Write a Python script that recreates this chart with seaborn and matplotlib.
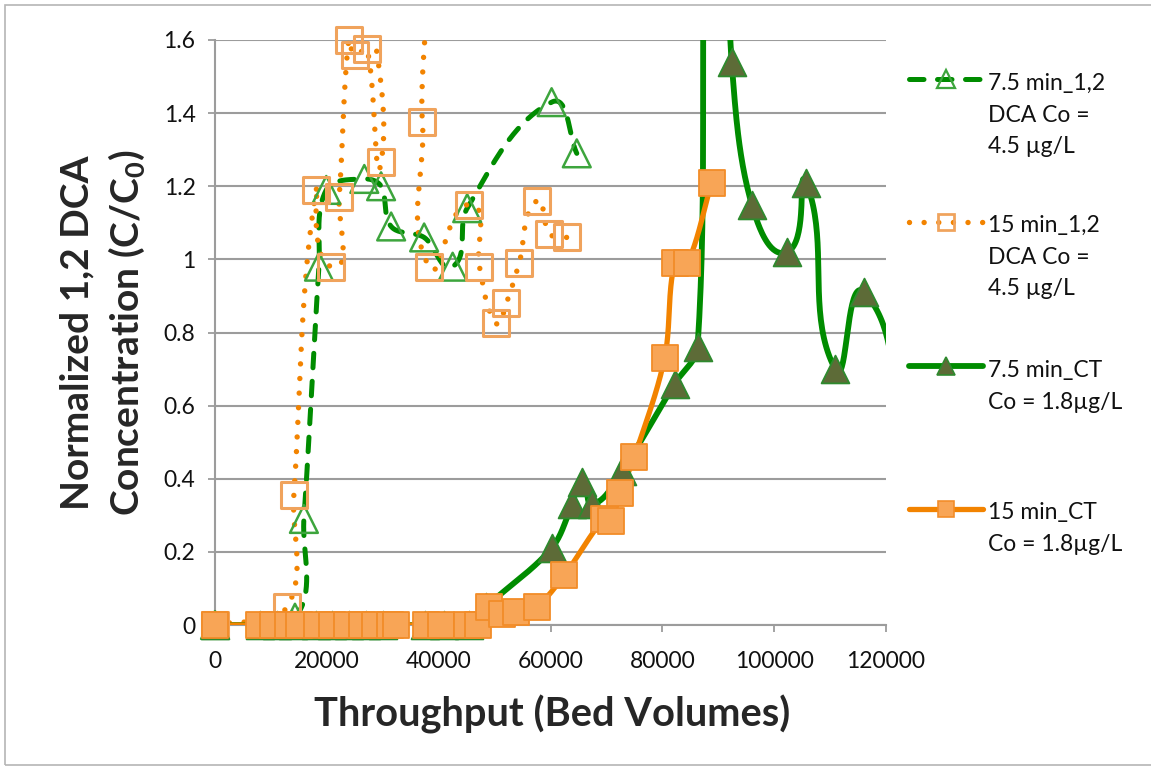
import numpy as np
import matplotlib
matplotlib.use("Agg")
import matplotlib.pyplot as plt
from matplotlib.lines import Line2D
from matplotlib.patches import Rectangle
from matplotlib.ticker import FuncFormatter, MultipleLocator
import seaborn as sns

# ---- data: throughput (bed volumes) vs normalized concentration C/C0 ----
# 7.5 min EBCT, 1,2-DCA (Co = 4.5 ug/L)
bv_dca_75 = [0, 14300, 15900, 18600, 19900, 26700, 29700, 31500, 37400, 42500, 45100, 60200, 64700]
cc_dca_75 = [0, 0.02, 0.29, 0.98, 1.19, 1.22, 1.20, 1.09, 1.06, 0.98, 1.14, 1.43, 1.29]

# 15 min EBCT, 1,2-DCA (Co = 4.5 ug/L)
bv_dca_15 = [0, 12900, 14100, 18100, 20800, 22200, 23900, 25000, 27200, 29700, 33000,
             37100, 38300, 45500, 47300, 50300, 52100, 54400, 57500, 59800, 62900]
cc_dca_15 = [0, 0.05, 0.355, 1.19, 0.98, 1.17, 1.60, 1.56, 1.575, 1.265, 2.10,
             1.375, 0.98, 1.15, 0.98, 0.825, 0.88, 0.99, 1.16, 1.07, 1.06]

# 7.5 min EBCT, CT (Co = 1.8 ug/L)
bv_ct_75 = [0, 8000, 11000, 14000, 18000, 21000, 24000, 27000, 30000, 37500, 41000, 45500,
            48500, 60200, 63900, 65600, 67500, 72700, 82200, 86300, 89700, 92400, 96000,
            102300, 105700, 110900, 116100, 123000]
cc_ct_75 = [0, 0, 0, 0, 0, 0, 0, 0, 0, 0, 0, 0,
            0.05, 0.21, 0.33, 0.39, 0.33, 0.42, 0.66, 0.76, 2.40, 1.54, 1.15,
            1.02, 1.21, 0.70, 0.91, 0.50]

# 15 min EBCT, CT (Co = 1.8 ug/L)
bv_ct_15 = [0, 7900, 10300, 13000, 15000, 18300, 21000, 23600, 26300, 28700, 31300, 32400,
            37800, 40500, 45000, 47000, 49000, 51400, 53900, 57500, 62500, 69500, 70800,
            72400, 75000, 80400, 82200, 84500, 88800]
cc_ct_15 = [0, 0, 0, 0, 0, 0, 0, 0, 0, 0, 0, 0,
            0, 0, 0, 0, 0.05, 0.03, 0.035, 0.05, 0.137, 0.29, 0.285,
            0.36, 0.46, 0.73, 0.99, 0.99, 1.21]

series_labels = [
    ["7.5 min_1,2", "DCA Co =", "4.5 µg/L"],
    ["15 min_1,2", "DCA Co =", "4.5 µg/L"],
    ["7.5 min_CT", "Co = 1.8µg/L"],
    ["15 min_CT", "Co = 1.8µg/L"],
]

X_MAX, Y_MAX = 120000, 1.6

# ---- styling ----
sns.set_theme(style="white")
plt.rcParams["font.family"] = ["Lato", "DejaVu Sans"]
plt.rcParams["mathtext.default"] = "regular"

GREEN = "#008C00"
ORANGE = "#F28300"
OLIVE = "#5D6B37"
SQ_FILL = "#F8A556"
SQ_EDGE = "#F28C28"
HOLLOW_SQ = "#F0A35C"
HOLLOW_TRI = "#3DA53D"
GRID = "#9C9C9C"

W, H = 1151, 771
fig = plt.figure(figsize=(W / 100, H / 100), dpi=100)
fig.patch.set_facecolor("white")

ax_l, ax_r, ax_t, ax_b = 215, 886, 40, 625
ax = fig.add_axes([ax_l / W, 1 - ax_b / H, (ax_r - ax_l) / W, (ax_b - ax_t) / H])

# screen scale of the plot area, so the smoothing works in display proportions
SX = (ax_r - ax_l) / X_MAX
SY = (ax_b - ax_t) / Y_MAX


def smooth_path(x, y, n=40, k=1 / 3):
    """Bezier smoothing: tangent direction from the neighbours,
    handle length proportional to the segment length (no overshoot)."""
    p = np.column_stack([np.asarray(x, float) * SX, np.asarray(y, float) * SY])
    m = len(p)
    d = np.zeros_like(p)
    for i in range(m):
        a = p[max(i - 1, 0)]
        b = p[min(i + 1, m - 1)]
        v = b - a
        nv = np.hypot(*v)
        d[i] = v / nv if nv > 0 else 0
    t = np.linspace(0, 1, n + 1)[1:, None]
    out = [p[:1]]
    for i in range(m - 1):
        p1, p2 = p[i], p[i + 1]
        L = np.hypot(*(p2 - p1))
        c1 = p1 + d[i] * L * k
        c2 = p2 - d[i + 1] * L * k
        out.append((1 - t) ** 3 * p1 + 3 * (1 - t) ** 2 * t * c1
                   + 3 * (1 - t) * t ** 2 * c2 + t ** 3 * p2)
    q = np.vstack(out)
    return q[:, 0] / SX, q[:, 1] / SY


line_styles = [
    dict(color=GREEN, lw=3.6, linestyle=(0, (2.9, 2.7)), dash_capstyle="round"),
    dict(color=ORANGE, lw=3.9, linestyle=(0, (0.001, 2.7)), dash_capstyle="round"),
    dict(color=GREEN, lw=4.2, linestyle="-", solid_capstyle="round"),
    dict(color=ORANGE, lw=3.8, linestyle="-", solid_capstyle="round"),
]
marker_styles = [
    dict(marker="^", s=400, facecolor="none", edgecolor=HOLLOW_TRI, linewidth=1.8),
    dict(marker="s", s=350, facecolor="none", edgecolor=HOLLOW_SQ, linewidth=2.2),
    dict(marker="^", s=400, facecolor=OLIVE, edgecolor="#2E8A2E", linewidth=1.3),
    dict(marker="s", s=360, facecolor=SQ_FILL, edgecolor=SQ_EDGE, linewidth=1.3),
]
series = [(bv_dca_75, cc_dca_75), (bv_dca_15, cc_dca_15),
          (bv_ct_75, cc_ct_75), (bv_ct_15, cc_ct_15)]

# smoothed lines first (clipped to the plot area)
for (xs, ys), st in zip(series, line_styles):
    px_, py_ = smooth_path(xs, ys)
    sns.lineplot(x=px_, y=py_, sort=False, estimator=None, ax=ax, zorder=3, **st)

# then the markers of every series, in series order
for i, ((xs, ys), mk) in enumerate(zip(series, marker_styles)):
    xs, ys = np.asarray(xs, float), np.asarray(ys, float)
    keep = (ys <= Y_MAX * 1.005) & (xs <= X_MAX)
    sns.scatterplot(x=xs[keep], y=ys[keep], ax=ax, zorder=4 + i, **mk)
for coll in ax.collections:
    coll.set_clip_on(False)

# ---- axes ----
ax.set_xlim(0, X_MAX)
ax.set_ylim(0, Y_MAX)
ax.xaxis.set_major_locator(MultipleLocator(20000))
ax.yaxis.set_major_locator(MultipleLocator(0.2))
ax.xaxis.set_major_formatter(FuncFormatter(lambda v, _: f"{v:.0f}"))
ax.yaxis.set_major_formatter(FuncFormatter(lambda v, _: f"{v:g}"))
ax.set_xlabel("")
ax.set_ylabel("")
ax.yaxis.grid(True, color=GRID, lw=1.5)
ax.xaxis.grid(False)
ax.set_axisbelow(True)
for side in ["top", "right"]:
    ax.spines[side].set_visible(False)
for side in ["left", "bottom"]:
    ax.spines[side].set_color(GRID)
    ax.spines[side].set_linewidth(1.5)
ax.tick_params(axis="x", direction="out", length=5, width=1.3, color=GRID,
               labelsize=16.5, labelcolor="#111111", pad=14, bottom=True)
ax.tick_params(axis="y", direction="out", length=5, width=1.3, color=GRID,
               labelsize=16.5, labelcolor="#111111", pad=9, left=True)

# axis titles
fig.text(552 / W, 1 - 727 / H, "Throughput (Bed Volumes)", ha="center",
         va="baseline", fontsize=28.7, fontweight="bold")
fig.text(88 / W, 1 - 333 / H, "Normalized 1,2 DCA", rotation=90,
         rotation_mode="anchor", ha="center", va="baseline",
         fontsize=28, fontweight="bold")
fig.text(139 / W, 1 - 333 / H, "Concentration (C/C$_0$)", rotation=90,
         rotation_mode="anchor", ha="center", va="baseline",
         fontsize=28, fontweight="bold")

# ---- legend on the right, handle level with the first text line ----
handle_y = [79, 222, 366, 509]
first_base = [90, 232, 377, 519]
line_gap = 31.7
hx0, hx1, hxm, tx = 909, 983, 946, 988
for i in range(4):
    y = 1 - handle_y[i] / H
    st = dict(line_styles[i])
    fig.add_artist(Line2D([hx0 / W, hx1 / W], [y, y], transform=fig.transFigure, **st))
    mk = marker_styles[i]
    fig.add_artist(Line2D([hxm / W], [y], transform=fig.transFigure, linestyle="none",
                          marker=mk["marker"], markersize=np.sqrt(mk["s"]) * 0.62,
                          markerfacecolor=mk["facecolor"], markeredgecolor=mk["edgecolor"],
                          markeredgewidth=mk["linewidth"] * 0.9))
    for j, txt in enumerate(series_labels[i]):
        fig.text(tx / W, 1 - (first_base[i] + j * line_gap) / H, txt,
                 ha="left", va="baseline", fontsize=16.5, color="#111111")

# chart-area border
fig.add_artist(Rectangle((5 / W, 1 - 765 / H), 1.2, (765 - 5) / H,
                         transform=fig.transFigure, fill=False,
                         edgecolor="#B5B5B5", lw=1.2))

fig.savefig("out.png", dpi=100, facecolor="white")
